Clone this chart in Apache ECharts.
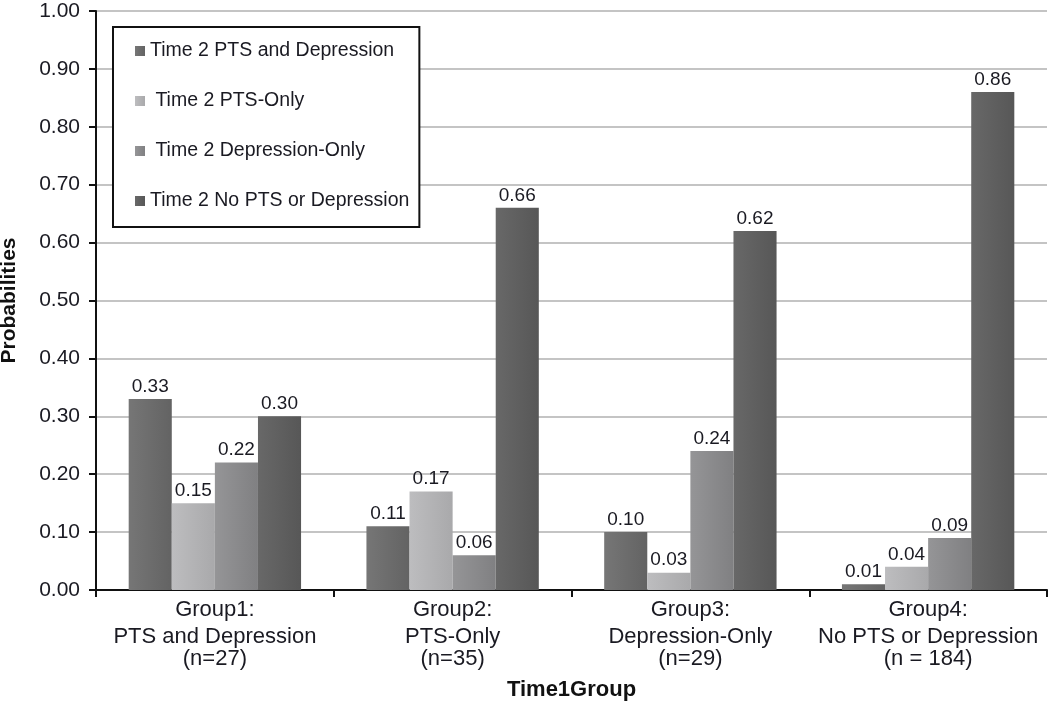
<!DOCTYPE html>
<html><head><meta charset="utf-8">
<script src="https://cdn.jsdelivr.net/npm/echarts@6/dist/echarts.min.js"></script>
<style>html,body{margin:0;padding:0;background:#fff}#c{width:1050px;height:707px}</style>
</head><body><div id="c"></div>
<script>
const groupNames = ["Group1:", "Group2:", "Group3:", "Group4:"];
const groupDescs = ["PTS and Depression", "PTS-Only", "Depression-Only", "No PTS or Depression"];
const groupNs = ["(n=27)", "(n=35)", "(n=29)", "(n = 184)"];
const categories = groupNames.map((g, i) => g + "\n" + groupDescs[i] + "\n" + groupNs[i]);
const seriesNames = ["Time 2 PTS and Depression", " Time 2 PTS-Only", " Time 2 Depression-Only", "Time 2 No PTS or Depression"];
const ptsAndDep = [0.33, 0.11, 0.10, 0.01];
const ptsOnly = [0.15, 0.17, 0.03, 0.04];
const depOnly = [0.22, 0.06, 0.24, 0.09];
const noPtsDep = [0.30, 0.66, 0.62, 0.86];
const yTicks = [0, 0.1, 0.2, 0.3, 0.4, 0.5, 0.6, 0.7, 0.8, 0.9, 1.0];

const colors = [["#767676", "#636363"], ["#bdbdbf", "#a9a9ab"], ["#959597", "#808082"], ["#686868", "#575757"]];
const font = "Liberation Sans, Arial, sans-serif";
function grad(c) {
  return new echarts.graphic.LinearGradient(0, 0, 1, 0, [{offset: 0, color: c[0]}, {offset: 1, color: c[1]}]);
}
const dataSets = [ptsAndDep, ptsOnly, depOnly, noPtsDep];
const chart = echarts.init(document.getElementById('c'));
chart.setOption({
  backgroundColor: '#fff',
  animation: false,
  grid: {left: 96, right: 3, top: 11, bottom: 117, containLabel: false, outerBoundsMode: 'none'},
  legend: {
    orient: 'vertical', left: 113, top: 27,
    padding: [14, 10, 16, 22],
    itemGap: 30, itemWidth: 10, itemHeight: 10,
    borderColor: '#111', borderWidth: 2,
    backgroundColor: '#fff',
    icon: 'rect',
    textStyle: {fontFamily: font, fontSize: 19.5, color: '#1a1a22', padding: [0, 0, 0, 0]},
    data: seriesNames
  },
  xAxis: {
    type: 'category', data: categories,
    name: 'Time1Group', nameLocation: 'middle', nameGap: 89,
    nameTextStyle: {fontFamily: font, fontSize: 22, fontWeight: 'bold', color: '#111'},
    axisLine: {lineStyle: {color: '#111', width: 2}},
    axisTick: {show: true, length: 7, lineStyle: {color: '#111', width: 2}},
    axisLabel: {
      interval: 0, margin: 6, hideOverlap: false,
      formatter: v => { const p = v.split("\n"); return "{a|" + p[0] + "}\n{a|" + p[1] + "}\n{b|" + p[2] + "}"; },
      rich: {
        a: {fontFamily: font, fontSize: 22, color: '#1a1a22', lineHeight: 27},
        b: {fontFamily: font, fontSize: 22, color: '#1a1a22', lineHeight: 17}
      }
    }
  },
  yAxis: {
    type: 'value', min: 0, max: 1, interval: 0.1,
    name: 'Probabilities', nameLocation: 'middle', nameGap: 76, nameRotate: 90,
    nameTextStyle: {fontFamily: font, fontSize: 21, fontWeight: 'bold', color: '#111'},
    axisLine: {show: true, lineStyle: {color: '#111', width: 2}},
    axisTick: {show: true, length: 7, lineStyle: {color: '#111', width: 2}},
    axisLabel: {fontFamily: font, fontSize: 21, color: '#1a1a22', margin: 16,
      formatter: v => yTicks.includes(+v.toFixed(1)) ? v.toFixed(2) : ''},
    splitLine: {show: true, lineStyle: {color: '#c4c4c4', width: 2}}
  },
  series: dataSets.map((d, i) => ({
    name: seriesNames[i], type: 'bar', data: d,
    barGap: '0%', barCategoryGap: '27.5%',
    itemStyle: {color: grad(colors[i])},
    label: {show: true, position: 'top', distance: 3, fontFamily: font, fontSize: 19, color: '#1a1a22',
      formatter: p => p.value.toFixed(2)}
  }))
});
</script></body></html>
